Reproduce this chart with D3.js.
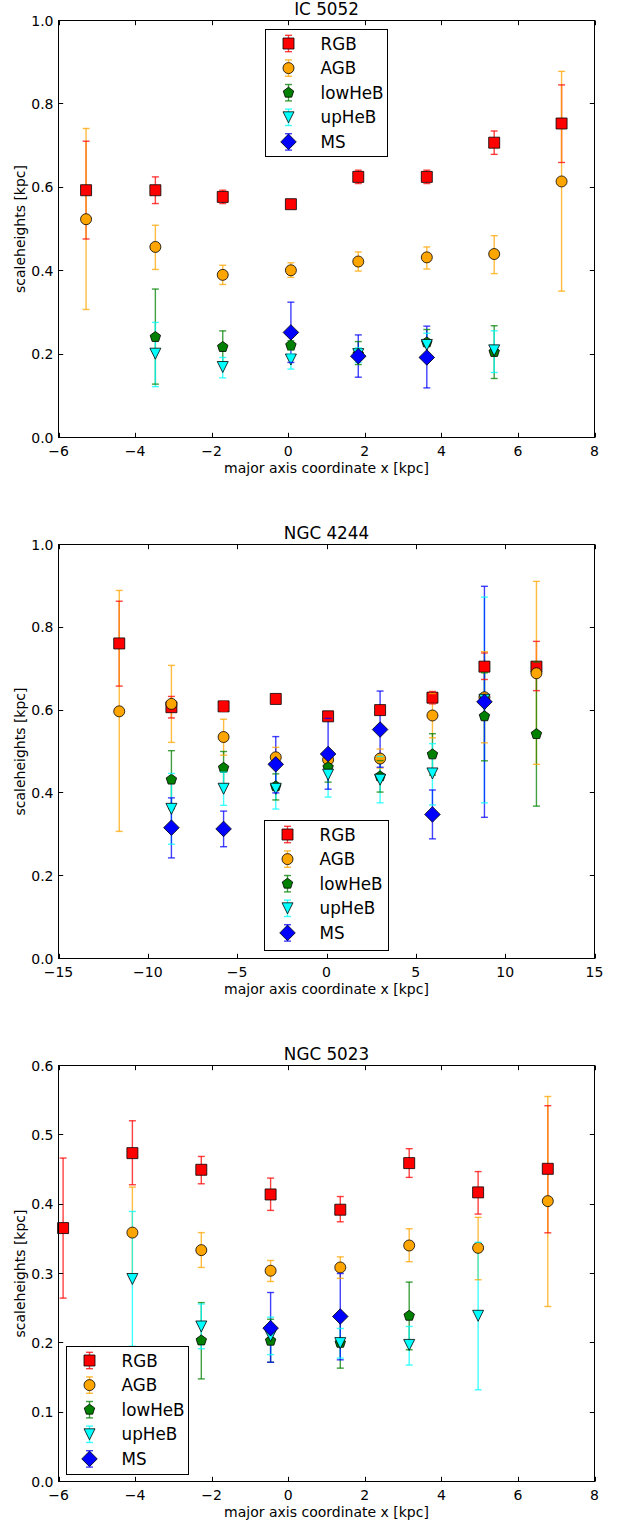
<!DOCTYPE html>
<html><head><meta charset="utf-8">
<script src="https://cdn.jsdelivr.net/npm/d3@7"></script>
<style>
body{margin:0;background:#fff}
svg{display:block}
text{font-family:"DejaVu Sans",sans-serif;fill:#000}
</style>
</head><body>
<svg id="c" width="623" height="1524"></svg>
<script>
// ---------------- DATA ----------------
const seriesNames = ["RGB", "AGB", "lowHeB", "upHeB", "MS"];
const panelTitles = ["IC 5052", "NGC 4244", "NGC 5023"];
const xLabel = "major axis coordinate x [kpc]";
const yLabel = "scaleheights [kpc]";

// each entry: [value, lower error end, upper error end]; null = no point
const ic5052_x = [-5.28, -3.47, -1.71, 0.07, 1.83, 3.62, 5.38, 7.14];
const ic5052_RGB = [[0.593,0.476,0.7105],[0.593,0.561,0.625],[0.577,0.561,0.593],[0.5595,0.555,0.564],[0.625,0.609,0.641],[0.625,0.609,0.641],[0.707,0.679,0.735],[0.753,0.6595,0.8456]];
const ic5052_AGB = [[0.5235,0.307,0.741],[0.457,0.403,0.509],[0.39,0.367,0.413],[0.401,0.384,0.419],[0.422,0.399,0.445],[0.432,0.404,0.457],[0.44,0.393,0.484],[0.614,0.351,0.878]];
const ic5052_lowHeB = [null,[0.241,0.128,0.356],[0.217,0.18,0.2557],[0.221,0.21,0.232],[0.2,0.175,0.23],[0.228,0.197,0.259],[0.205,0.1415,0.268],null];
const ic5052_upHeB = [null,[0.201,0.122,0.276],[0.169,0.143,0.192],[0.187,0.164,0.2],[0.2,0.18,0.215],[0.222,0.2,0.25],[0.209,0.156,0.256],null];
const ic5052_MS = [null,null,null,[0.252,0.18,0.3245],[0.195,0.1446,0.246],[0.192,0.119,0.267],null,null];

const ngc4244_x = [-11.6, -8.68, -5.76, -2.84, 0.09, 3.0, 5.93, 8.84, 11.75];
const ngc4244_RGB = [[0.761,0.658,0.863],[0.607,0.581,0.633],[0.609,0.597,0.621],[0.627,0.622,0.632],[0.585,0.578,0.592],[0.6,0.592,0.608],[0.63,0.615,0.645],[0.705,0.674,0.738],[0.705,0.647,0.766]];
const ngc4244_AGB = [[0.597,0.307,0.889],[0.615,0.522,0.708],[0.535,0.491,0.578],[0.486,0.462,0.51],[0.48,0.465,0.495],[0.483,0.46,0.506],[0.587,0.533,0.64],[0.631,0.521,0.741],[0.689,0.469,0.911]];
const ngc4244_lowHeB = [null,[0.432,0.362,0.502],[0.4605,0.42,0.5],[0.416,0.383,0.446],[0.462,0.426,0.498],[0.44,0.402,0.478],[0.493,0.443,0.543],[0.585,0.4775,0.69],[0.542,0.368,0.716]];
const ngc4244_upHeB = [null,[0.3615,0.276,0.447],[0.41,0.37,0.45],[0.41,0.361,0.459],[0.444,0.39,0.498],[0.432,0.376,0.488],[0.447,0.371,0.519],[0.625,0.376,0.873],null];
const ngc4244_MS = [null,[0.316,0.243,0.388],[0.313,0.27,0.356],[0.469,0.40,0.536],[0.494,0.409,0.58],[0.553,0.462,0.646],[0.348,0.289,0.407],[0.62,0.341,0.899],null];

const ngc5023_x = [-5.88, -4.07, -2.27, -0.46, 1.36, 3.16, 4.96, 6.78];
const ngc5023_RGB = [[0.3655,0.2645,0.4665],[0.4736,0.428,0.5203],[0.4496,0.4294,0.4688],[0.414,0.391,0.4376],[0.392,0.3746,0.411],[0.4592,0.4386,0.48],[0.417,0.3857,0.447],[0.451,0.3587,0.542]];
const ngc5023_AGB = [null,[0.359,0.294,0.4246],[0.3337,0.3087,0.359],[0.304,0.2885,0.3188],[0.3087,0.293,0.324],[0.3404,0.317,0.3645],[0.337,0.291,0.381],[0.4044,0.2524,0.5553]];
const ngc5023_lowHeB = [null,null,[0.2034,0.148,0.258],[0.203,0.172,0.234],[0.2,0.1635,0.236],[0.239,0.19,0.2876],null,null];
const ngc5023_upHeB = [null,[0.292,0.195,0.3895],[0.2236,0.1914,0.256],[0.21,0.183,0.237],[0.1996,0.178,0.2207],[0.197,0.168,0.2236],[0.239,0.1323,0.345],null];
const ngc5023_MS = [null,null,null,[0.2212,0.172,0.2726],[0.238,0.1755,0.30],null,null,null];

const xTicksA = [-6, -4, -2, 0, 2, 4, 6, 8];
const xTicksB = [-15, -10, -5, 0, 5, 10, 15];
const yTicksA = [0, 0.2, 0.4, 0.6, 0.8, 1.0];
const yTicksB = [0, 0.1, 0.2, 0.3, 0.4, 0.5, 0.6];

// ---------------- STYLE / LAYOUT ----------------
const colors = {RGB:"#ff0000", AGB:"#ffa500", lowHeB:"#008000", upHeB:"#00ffff", MS:"#0000ff"};
const shapes = {RGB:"square", AGB:"circle", lowHeB:"pentagon", upHeB:"tridown", MS:"diamond"};
const L = 58.5, R = 594.5;
const MS_SIZE = 11, CAP = 3.5, TICK = 4.7;
const EB_W = 1.4, EB_OP = 0.75;

const panels = [
  {title: panelTitles[0], top: 20.5, bottom: 437.5, xd: [-6, 8], yd: [0, 1], xt: xTicksA, yt: yTicksA,
   x: ic5052_x, data: {RGB: ic5052_RGB, AGB: ic5052_AGB, lowHeB: ic5052_lowHeB, upHeB: ic5052_upHeB, MS: ic5052_MS},
   leg: {x: 265.5, y: 29.5, w: 122, h: 127}},
  {title: panelTitles[1], top: 544.5, bottom: 958.5, xd: [-15, 15], yd: [0, 1], xt: xTicksB, yt: yTicksA,
   x: ngc4244_x, data: {RGB: ngc4244_RGB, AGB: ngc4244_AGB, lowHeB: ngc4244_lowHeB, upHeB: ngc4244_upHeB, MS: ngc4244_MS},
   leg: {x: 264.5, y: 820.5, w: 124, h: 130}},
  {title: panelTitles[2], top: 1065.5, bottom: 1481.5, xd: [-6, 8], yd: [0, 0.6], xt: xTicksA, yt: yTicksB,
   x: ngc5023_x, data: {RGB: ngc5023_RGB, AGB: ngc5023_AGB, lowHeB: ngc5023_lowHeB, upHeB: ngc5023_upHeB, MS: ngc5023_MS},
   leg: {x: 66.5, y: 1346.5, w: 122, h: 128}}
];

function markerPath(type) {
  const h = MS_SIZE / 2;
  if (type === "square") return `M${-h},${-h}H${h}V${h}H${-h}Z`;
  if (type === "circle") return `M${h},0A${h},${h} 0 1 1 ${-h},0A${h},${h} 0 1 1 ${h},0Z`;
  if (type === "pentagon") {
    const pts = d3.range(5).map(i => {
      const a = -Math.PI / 2 + i * 2 * Math.PI / 5;
      return [h * Math.cos(a), h * Math.sin(a)];
    });
    return "M" + pts.map(p => p.join(",")).join("L") + "Z";
  }
  if (type === "tridown") return `M${-h},${-h}L${h},${-h}L0,${h}Z`;
  if (type === "diamond") { const d = MS_SIZE / Math.SQRT2; return `M0,${-d}L${d},0L0,${d}L${-d},0Z`; }
}

const fmtMinus = v => (v < 0 ? "\u2212" + Math.abs(v) : String(v));
const svg = d3.select("#c");

panels.forEach(p => {
  const x = d3.scaleLinear().domain(p.xd).range([L, R]);
  const y = d3.scaleLinear().domain(p.yd).range([p.bottom, p.top]);
  const g = svg.append("g");

  const pts = name => p.x.map((xv, i) => ({x: xv, v: p.data[name][i]})).filter(d => d.v);

  // error bar lines (drawn below all markers)
  seriesNames.forEach(name => {
    g.append("g").selectAll("line").data(pts(name)).join("line")
      .attr("x1", d => x(d.x)).attr("x2", d => x(d.x))
      .attr("y1", d => y(d.v[1])).attr("y2", d => y(d.v[2]))
      .attr("stroke", colors[name]).attr("stroke-width", EB_W).attr("stroke-opacity", EB_OP);
  });

  // markers and caps, series by series
  seriesNames.forEach(name => {
    const d = pts(name);
    const sg = g.append("g");
    sg.selectAll("path.m").data(d).join("path").attr("class", "m")
      .attr("d", markerPath(shapes[name]))
      .attr("transform", e => `translate(${x(e.x)},${y(e.v[0])})`)
      .attr("fill", colors[name]).attr("stroke", "#000").attr("stroke-width", 0.8);
    const caps = [];
    d.forEach(e => { caps.push({x: e.x, v: e.v[1]}); caps.push({x: e.x, v: e.v[2]}); });
    sg.selectAll("line").data(caps).join("line")
      .attr("x1", e => x(e.x) - CAP).attr("x2", e => x(e.x) + CAP)
      .attr("y1", e => y(e.v)).attr("y2", e => y(e.v))
      .attr("stroke", colors[name]).attr("stroke-width", EB_W).attr("stroke-opacity", EB_OP);
  });

  // frame
  g.append("rect").attr("x", L).attr("y", p.top).attr("width", R - L).attr("height", p.bottom - p.top)
    .attr("fill", "none").attr("stroke", "#000").attr("stroke-width", 1);

  // ticks (inside, all four sides)
  const tg = g.append("g").attr("stroke", "#000").attr("stroke-width", 1);
  p.xt.forEach(t => {
    const xx = Math.round(x(t)) + 0.5;
    tg.append("line").attr("x1", xx).attr("x2", xx).attr("y1", p.bottom).attr("y2", p.bottom - TICK);
    tg.append("line").attr("x1", xx).attr("x2", xx).attr("y1", p.top).attr("y2", p.top + TICK);
  });
  p.yt.forEach(t => {
    const yy = Math.round(y(t) - 0.5) + 0.5;
    tg.append("line").attr("x1", L).attr("x2", L + TICK).attr("y1", yy).attr("y2", yy);
    tg.append("line").attr("x1", R).attr("x2", R - TICK).attr("y1", yy).attr("y2", yy);
  });

  // tick labels
  g.append("g").selectAll("text").data(p.xt).join("text")
    .attr("x", t => x(t)).attr("y", p.bottom + 18).attr("text-anchor", "middle")
    .style("font-size", "14px").text(fmtMinus);
  g.append("g").selectAll("text").data(p.yt).join("text")
    .attr("x", L - 5).attr("y", t => y(t) + 5).attr("text-anchor", "end")
    .style("font-size", "14px").text(d3.format(".1f"));

  // axis labels and title
  g.append("text").attr("x", (L + R) / 2).attr("y", p.bottom + 35).attr("text-anchor", "middle")
    .style("font-size", "14px").text(xLabel);
  g.append("text").attr("transform", `translate(25,${(p.top + p.bottom) / 2}) rotate(-90)`)
    .attr("text-anchor", "middle").style("font-size", "14px").text(yLabel);
  g.append("text").attr("x", (L + R) / 2).attr("y", p.top - 5.5).attr("text-anchor", "middle")
    .style("font-size", "16.8px").text(p.title);

  // legend
  const lg = g.append("g");
  lg.append("rect").attr("x", p.leg.x).attr("y", p.leg.y).attr("width", p.leg.w).attr("height", p.leg.h)
    .attr("fill", "#fff").attr("stroke", "#000").attr("stroke-width", 1);
  seriesNames.forEach((name, i) => {
    const cy = p.leg.y + 14 + i * 24.6;
    const cx = p.leg.x + 23;
    lg.append("line").attr("x1", cx).attr("x2", cx).attr("y1", cy - 8.2).attr("y2", cy + 8.2)
      .attr("stroke", colors[name]).attr("stroke-width", EB_W).attr("stroke-opacity", EB_OP);
    lg.append("path").attr("d", markerPath(shapes[name])).attr("transform", `translate(${cx},${cy})`)
      .attr("fill", colors[name]).attr("stroke", "#000").attr("stroke-width", 0.8);
    [cy - 8.2, cy + 8.2].forEach(yy => {
      lg.append("line").attr("x1", cx - CAP).attr("x2", cx + CAP).attr("y1", yy).attr("y2", yy)
        .attr("stroke", colors[name]).attr("stroke-width", EB_W).attr("stroke-opacity", EB_OP);
    });
    lg.append("text").attr("x", p.leg.x + 55).attr("y", cy + 6).style("font-size", "16.8px").text(name);
  });
});
</script>
</body></html>
